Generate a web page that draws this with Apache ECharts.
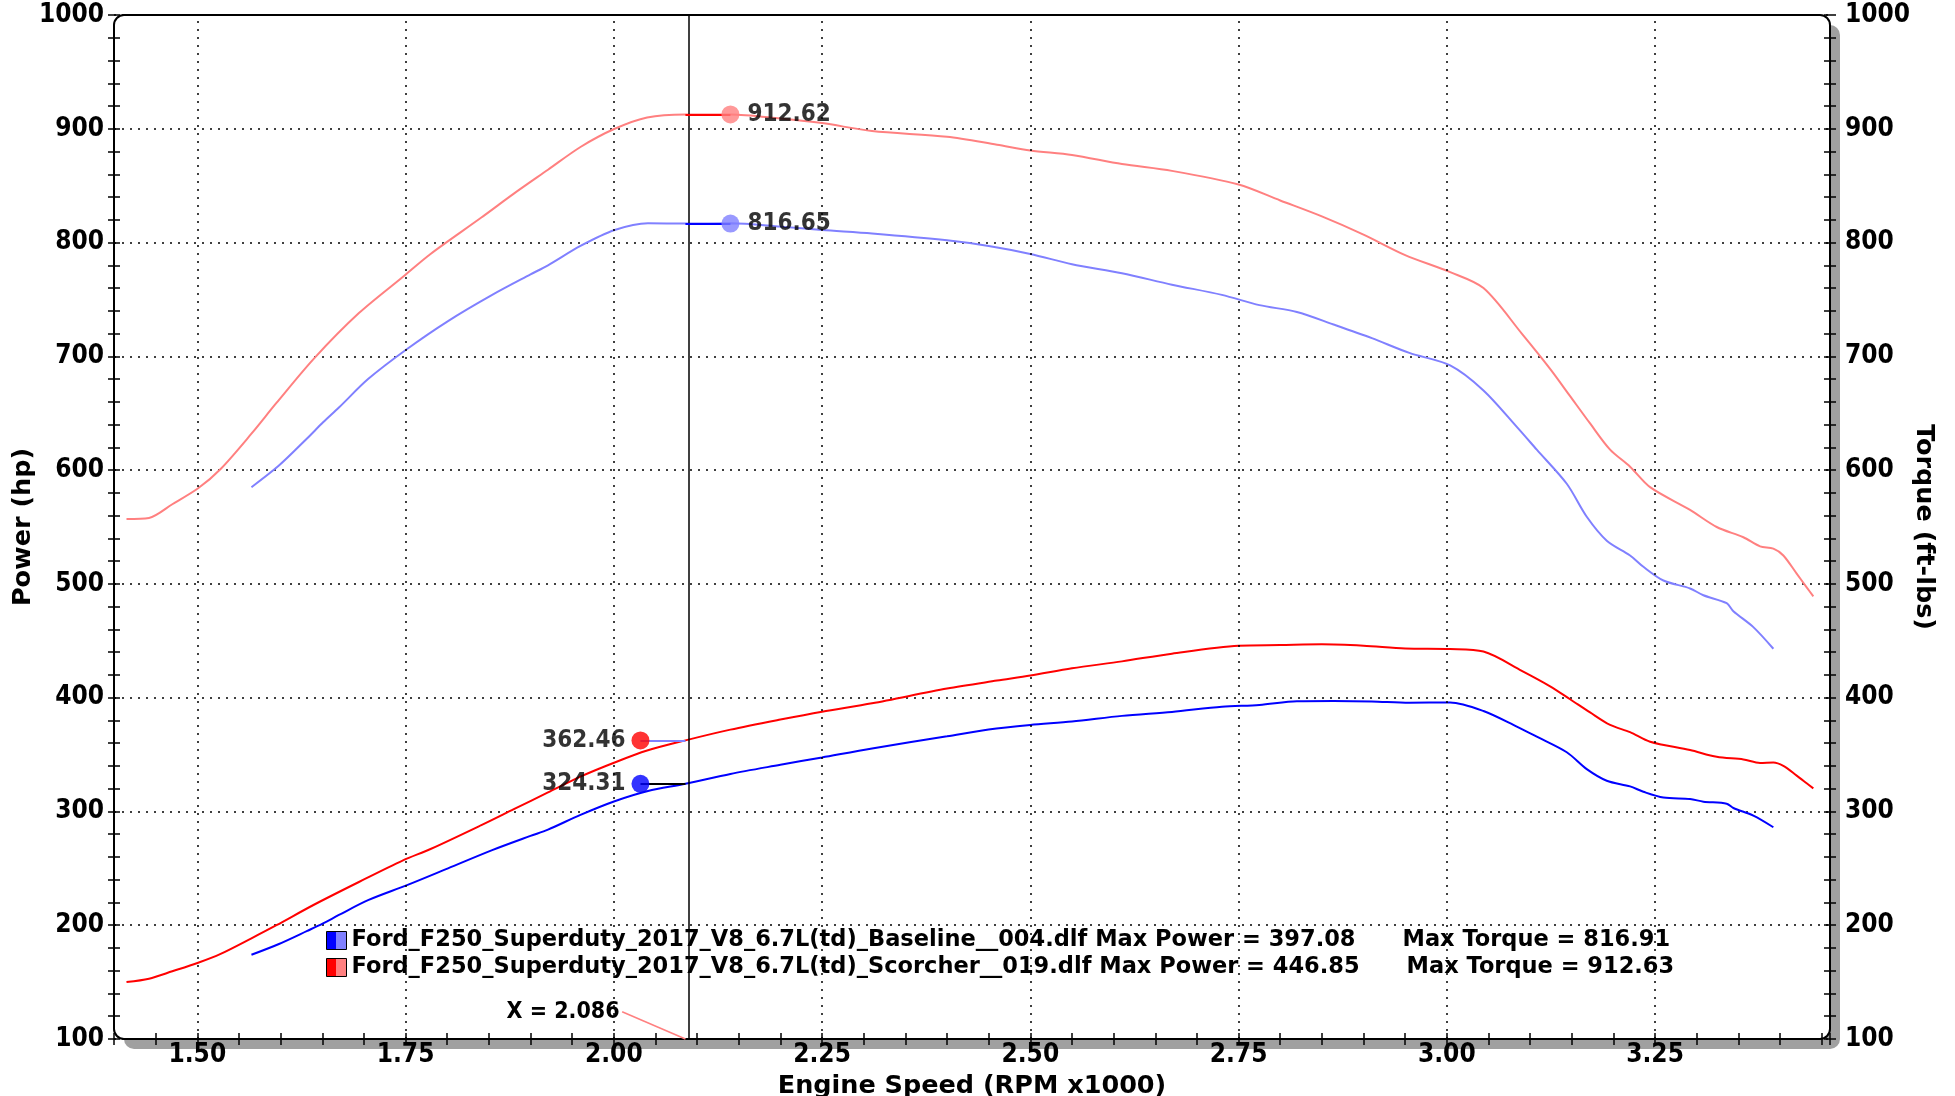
<!DOCTYPE html>
<html>
<head>
  <meta charset="utf-8">
  <title>Dyno</title>
  <script src="https://cdn.jsdelivr.net/npm/echarts@6/dist/echarts.min.js"></script>
  <style>
    html, body { margin: 0; padding: 0; background: #fff; }
    #chart { width: 1955px; height: 1096px; }
  </style>
</head>
<body>
<div id="chart"></div>
<script>
  // runs
  var runNames = ['Ford_F250_Superduty_2017_V8_6.7L(td)_Baseline__004.dlf', 'Ford_F250_Superduty_2017_V8_6.7L(td)_Scorcher__019.dlf'];
  var maxPower = [397.08, 446.85];
  var maxTorque = [816.91, 912.63];

  // baseline run (rpm x1000)
  var baseRpm = [1.565, 1.598, 1.632, 1.651, 1.670, 1.705, 1.751, 1.801, 1.854, 1.900, 1.921, 1.960, 2.001, 2.041, 2.086, 2.140, 2.200, 2.250, 2.310, 2.400, 2.450, 2.500, 2.550, 2.610, 2.670, 2.730, 2.775, 2.820, 2.864, 2.910, 2.955, 3.004, 3.044, 3.084, 3.108, 3.144, 3.168, 3.192, 3.220, 3.236, 3.260, 3.292, 3.308, 3.336, 3.344, 3.368, 3.392];
  var baseTorque = [585, 604, 628, 642, 655, 680, 706, 731, 754, 772, 780, 797, 811, 817, 816.65, 816.9, 814, 811, 808, 802, 797, 790, 781, 773, 763, 754, 745, 739, 728, 716, 703, 692, 670, 638, 618, 588, 559, 538, 525, 515, 503, 496, 490, 483, 476, 462, 443];
  var basePower = [174, 183.5, 195, 201.6, 209, 222, 235, 250, 266, 278.5, 284, 297, 309, 318, 324.31, 333, 341, 347.5, 355.4, 366, 372, 376, 379, 384, 387.5, 392, 393.6, 396.8, 397.08, 396.7, 395.5, 395.8, 388.3, 374.6, 365.7, 352, 337.2, 327, 322, 317.3, 312.2, 310.9, 308.6, 306.8, 303, 296.3, 286.1];

  // scorcher run
  var scorRpm = [1.415, 1.442, 1.470, 1.501, 1.528, 1.565, 1.595, 1.640, 1.694, 1.747, 1.780, 1.841, 1.880, 1.921, 1.960, 2.001, 2.040, 2.086, 2.140, 2.200, 2.250, 2.310, 2.400, 2.460, 2.500, 2.550, 2.610, 2.670, 2.750, 2.800, 2.850, 2.900, 2.950, 3.004, 3.044, 3.090, 3.124, 3.148, 3.172, 3.196, 3.220, 3.244, 3.292, 3.324, 3.356, 3.376, 3.392, 3.404, 3.420, 3.432, 3.440];
  var scorTorque = [557, 558, 570, 584, 601, 632, 659, 698, 738, 770, 790, 822, 843, 864, 884, 900, 910, 912.62, 912.6, 909, 905, 898, 893, 886, 881, 877, 869, 863, 851, 837, 823, 807, 789, 774, 760, 720, 689, 665, 641, 618, 603, 585, 565, 550, 541, 533, 531, 525, 509, 497, 489];
  var scorPower = [150, 153, 159.5, 167, 174.8, 188.5, 200, 218, 238, 257, 267, 288, 302, 316.7, 330.6, 343, 353.5, 362.46, 371.9, 380.8, 387.7, 395, 408, 415, 419.4, 425.8, 431.9, 438.7, 445.6, 446.2, 446.85, 445.6, 443.2, 442.7, 440.5, 423.6, 410, 398.6, 387, 376, 369.7, 361.3, 354, 348, 345.7, 342.6, 343, 340, 331.5, 324.8, 320.3];

  // axis ticks
  var xTicks = [1.50, 1.75, 2.00, 2.25, 2.50, 2.75, 3.00, 3.25];

  // cursor readout
  var cursorX = 2.086;
  var cursorTorque = [816.65, 912.62];
  var cursorPower = [324.31, 362.46];

  var FONT_NUM = "'DejaVu Sans Condensed', 'DejaVu Sans', sans-serif";
  var FONT_TXT = "'DejaVu Sans', sans-serif";
  var GRID = { left: 114, top: 15, width: 1716, height: 1024 };
  var dotted = { color: '#000', type: [2, 6], width: 1.5 };
  var tickStyle = { color: '#000', width: 1.5 };
  var bold = function (size, family) {
    return { fontFamily: family || FONT_NUM, fontWeight: 'bold', fontSize: size, color: '#000' };
  };

  function pts(xs, ys) {
    return xs.map(function (x, i) { return [x, ys[i]]; });
  }
  function isMajor(v) {
    return Math.abs(v * 4 - Math.round(v * 4)) < 1e-6;
  }
  function split(c1, c2) {
    return {
      type: 'linear', x: 0, y: 0, x2: 1, y2: 0,
      colorStops: [{ offset: 0, color: c1 }, { offset: 0.5, color: c1 }, { offset: 0.5, color: c2 }, { offset: 1, color: c2 }]
    };
  }
  function curve(name, xs, ys, yIdx, color) {
    return {
      name: name, type: 'line', xAxisIndex: 0, yAxisIndex: yIdx,
      data: pts(xs, ys), showSymbol: false, smooth: 0.3,
      color: color, lineStyle: { width: 2 }, z: 3, silent: true
    };
  }

  var dotOff = 0.054;
  var myChart = echarts.init(document.getElementById('chart'));

  var powerBase = curve(runNames[0], baseRpm, basePower, 0, '#0000ff');
  powerBase.markLine = {
    silent: true, symbol: 'none', animation: false,
    label: { show: false },
    lineStyle: { color: '#ff8080', type: 'solid', width: 1.5 },
    data: xTicks.map(function (v) { return { xAxis: v, lineStyle: dotted }; }).concat([
      { xAxis: cursorX, lineStyle: { color: '#000', type: 'solid', width: 1.5 } },
      [{ coord: [cursorX, 100] }, { coord: [2.01, 124] }]
    ])
  };
  powerBase.markPoint = {
    silent: true, symbol: 'circle', symbolSize: 1,
    itemStyle: { color: 'rgba(0,0,0,0)' },
    data: [{
      coord: [2.01, 124],
      label: Object.assign(bold(23), { show: true, position: 'left', distance: 2, formatter: 'X = ' + cursorX.toFixed(3) })
    }]
  };

  var torqueScor = curve('Scorcher Torque', scorRpm, scorTorque, 1, '#ff8080');
  torqueScor.markLine = {
    silent: true, symbol: 'none', animation: false, label: { show: false },
    data: [
      [{ coord: [cursorX, cursorTorque[1]], lineStyle: { color: '#ff0000', width: 2, type: 'solid' } }, { coord: [cursorX + dotOff, cursorTorque[1]] }],
      [{ coord: [cursorX, cursorTorque[0]], lineStyle: { color: '#0000ff', width: 2, type: 'solid' } }, { coord: [cursorX + dotOff, cursorTorque[0]] }],
      [{ coord: [cursorX - dotOff, cursorPower[1]], lineStyle: { color: '#8080ff', width: 2, type: 'solid' } }, { coord: [cursorX, cursorPower[1]] }],
      [{ coord: [cursorX - dotOff, cursorPower[0]], lineStyle: { color: '#000000', width: 2, type: 'solid' } }, { coord: [cursorX, cursorPower[0]] }]
    ]
  };

  var yLabel = function (margin) {
    return Object.assign(bold(26), { margin: margin, formatter: function (v) { return String(v); } });
  };

  var option = {
    animation: false,
    backgroundColor: '#fff',
    grid: { left: GRID.left, top: GRID.top, width: GRID.width, height: GRID.height, outerBoundsMode: 'none' },
    graphic: [{
      type: 'rect', z: -2, silent: true,
      shape: { x: GRID.left + 10, y: GRID.top + 10, width: GRID.width, height: GRID.height, r: 10 },
      style: { fill: '#a0a0a0' }
    }, {
      type: 'rect', z: -1, silent: true,
      shape: { x: GRID.left, y: GRID.top, width: GRID.width, height: GRID.height, r: 10 },
      style: { fill: '#fff', stroke: '#000', lineWidth: 2 }
    }],
    legend: {
      left: 321, top: 924, orient: 'vertical', itemGap: 4,
      itemWidth: 20, itemHeight: 18, icon: 'rect', selectedMode: false,
      textStyle: Object.assign(bold(22.5, FONT_TXT), { lineHeight: 22 }),
      data: [
        { name: runNames[0], itemStyle: { color: split('#0000ff', '#8080ff'), borderColor: '#000', borderWidth: 1 } },
        { name: runNames[1], itemStyle: { color: split('#ff0000', '#ff8080'), borderColor: '#000', borderWidth: 1 } }
      ],
      formatter: function (name) {
        var i = runNames.indexOf(name);
        return name + ' Max Power = ' + maxPower[i].toFixed(2) + '      Max Torque = ' + maxTorque[i].toFixed(2);
      }
    },
    xAxis: [{
      type: 'value', min: 1.40, max: 3.46, interval: 0.05, position: 'bottom',
      axisLine: { show: false },
      axisTick: { show: true, length: 6, lineStyle: tickStyle },
      axisLabel: Object.assign(bold(26), {
        margin: 3,
        formatter: function (v) { return isMajor(v) ? v.toFixed(2) : ''; }
      }),
      splitLine: { show: false },
      name: 'Engine Speed (RPM x1000)', nameLocation: 'middle', nameGap: 30,
      nameTextStyle: bold(25.5, FONT_TXT)
    }, {
      type: 'value', min: 1.40, max: 3.46, interval: 0.05, position: 'bottom',
      axisLine: { show: false },
      axisTick: { show: true, inside: true, length: 6, lineStyle: tickStyle },
      axisLabel: { show: false },
      splitLine: { show: false }
    }],
    yAxis: [{
      type: 'value', min: 100, max: 1000, interval: 100, position: 'left',
      axisLine: { show: false },
      axisTick: { show: true, length: 6, lineStyle: tickStyle },
      minorTick: { show: true, splitNumber: 5, length: 6, lineStyle: tickStyle },
      axisLabel: yLabel(10),
      splitLine: { show: true, lineStyle: dotted },
      name: 'Power (hp)', nameLocation: 'middle', nameGap: 78, nameMoveOverlap: false,
      nameTextStyle: bold(25.5, FONT_TXT)
    }, {
      type: 'value', min: 100, max: 1000, interval: 100, position: 'right',
      axisLine: { show: false },
      axisTick: { show: true, length: 6, lineStyle: tickStyle },
      minorTick: { show: true, splitNumber: 5, length: 6, lineStyle: tickStyle },
      axisLabel: yLabel(15),
      splitLine: { show: false },
      name: 'Torque (ft-lbs)', nameLocation: 'middle', nameGap: 81, nameRotate: -90, nameMoveOverlap: false,
      nameTextStyle: bold(25.5, FONT_TXT)
    }, {
      type: 'value', min: 100, max: 1000, interval: 100, position: 'left',
      axisLine: { show: false },
      axisTick: { show: true, inside: true, length: 6, lineStyle: tickStyle },
      minorTick: { show: true, splitNumber: 5, length: 6, lineStyle: tickStyle },
      axisLabel: { show: false }, splitLine: { show: false }
    }, {
      type: 'value', min: 100, max: 1000, interval: 100, position: 'right',
      axisLine: { show: false },
      axisTick: { show: true, inside: true, length: 6, lineStyle: tickStyle },
      minorTick: { show: true, splitNumber: 5, length: 6, lineStyle: tickStyle },
      axisLabel: { show: false }, splitLine: { show: false }
    }],
    series: [
      powerBase,
      curve(runNames[1], scorRpm, scorPower, 0, '#ff0000'),
      curve('Baseline Torque', baseRpm, baseTorque, 1, '#8080ff'),
      torqueScor,
      {
        name: 'Torque readout', type: 'scatter', xAxisIndex: 0, yAxisIndex: 1, z: 5,
        symbolSize: 18, silent: true,
        data: [
          { value: [cursorX + dotOff, cursorTorque[0]], itemStyle: { color: '#8080ff' } },
          { value: [cursorX + dotOff, cursorTorque[1]], itemStyle: { color: '#ff8080' } }
        ],
        label: Object.assign(bold(24), {
          show: true, position: 'right', distance: 8,
          formatter: function (p) { return p.value[1].toFixed(2); }
        })
      },
      {
        name: 'Power readout', type: 'scatter', xAxisIndex: 0, yAxisIndex: 0, z: 5,
        symbolSize: 18, silent: true,
        data: [
          { value: [cursorX - dotOff, cursorPower[0]], itemStyle: { color: '#0000ff' } },
          { value: [cursorX - dotOff, cursorPower[1]], itemStyle: { color: '#ff0000' } }
        ],
        label: Object.assign(bold(24), {
          show: true, position: 'left', distance: 6,
          formatter: function (p) { return p.value[1].toFixed(2); }
        })
      }
    ]
  };

  myChart.setOption(option);
</script>
</body>
</html>
